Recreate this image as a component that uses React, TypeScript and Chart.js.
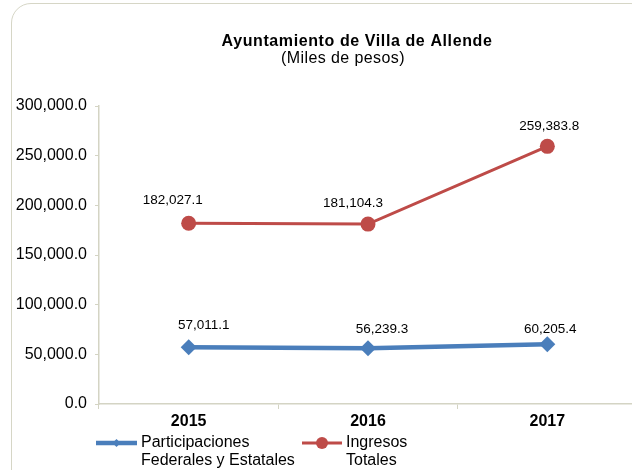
import { useEffect, useRef } from "react";
import { Chart, registerables } from "chart.js";
Chart.register(...registerables);

const years = ["2015", "2016", "2017"];
const participaciones = [57011.1, 56239.3, 60205.4];
const ingresos = [182027.1, 181104.3, 259383.8];
const seriesNames = [
  ["Participaciones", "Federales y Estatales"],
  ["Ingresos", "Totales"],
];
const titleText = "Ayuntamiento de Villa de Allende";
const subtitleText = "(Miles de pesos)";
const yMin = 0;
const yMax = 300000;
const yStep = 50000;

const BLUE = "#4a7ebb";
const RED = "#be4b48";
const AXIS = "#d4d4c4";
const FONT = "'Liberation Sans', Arial, sans-serif";

const fmt = (v: number) =>
  v.toLocaleString("en-US", { minimumFractionDigits: 1, maximumFractionDigits: 1 });

const overlayPlugin = {
  id: "overlay",
  afterDatasetsDraw(chart: any, _args: any, opts: any) {
    const ctx = chart.ctx;
    ctx.save();
    ctx.font = `13.5px ${FONT}`;
    ctx.fillStyle = "#000";
    ctx.textAlign = "center";
    ctx.textBaseline = "middle";
    chart.data.datasets.forEach((ds: any, di: number) => {
      const meta = chart.getDatasetMeta(di);
      meta.data.forEach((pt: any, i: number) => {
        const off = opts.labelOffsets[di][i];
        ctx.fillText(fmt(ds.data[i]), pt.x + off[0], pt.y + off[1]);
      });
    });
    ctx.restore();
  },
  afterDraw(chart: any, _args: any, opts: any) {
    const ctx = chart.ctx;
    ctx.save();
    ctx.fillStyle = "#000";
    ctx.textAlign = "center";
    ctx.textBaseline = "middle";
    ctx.font = `bold 16px ${FONT}`;
    (ctx as any).letterSpacing = "0.6px";
    ctx.fillText(titleText, opts.titleX, opts.titleY);
    ctx.font = `16px ${FONT}`;
    (ctx as any).letterSpacing = "0.4px";
    ctx.fillText(subtitleText, opts.subX, opts.subY);
    (ctx as any).letterSpacing = "0px";
    chart.data.datasets.forEach((ds: any, di: number) => {
      const it = opts.legend[di];
      ctx.strokeStyle = ds.borderColor;
      ctx.lineWidth = ds.borderWidth;
      ctx.beginPath();
      ctx.moveTo(it.x0, it.y);
      ctx.lineTo(it.x1, it.y);
      ctx.stroke();
      ctx.fillStyle = ds.borderColor;
      const mx = (it.x0 + it.x1) / 2;
      ctx.beginPath();
      if (ds.pointStyle === "rectRot") {
        const r = 4;
        ctx.moveTo(mx, it.y - r);
        ctx.lineTo(mx + r, it.y);
        ctx.lineTo(mx, it.y + r);
        ctx.lineTo(mx - r, it.y);
        ctx.closePath();
      } else {
        ctx.arc(mx, it.y, 6, 0, Math.PI * 2);
      }
      ctx.fill();
      ctx.fillStyle = "#000";
      ctx.textAlign = "left";
      ctx.textBaseline = "middle";
      ctx.font = `16px ${FONT}`;
      seriesNames[di].forEach((line, li) => {
        ctx.fillText(line, it.x1 + 4, it.y + li * 18);
      });
    });
    ctx.restore();
  },
};

export default function App() {
  const ref = useRef<HTMLCanvasElement>(null);
  useEffect(() => {
    if (!ref.current) return;
    const chart = new Chart(ref.current, {
      type: "line",
      data: {
        labels: years,
        datasets: [
          {
            label: seriesNames[0].join(" "),
            data: participaciones,
            borderColor: BLUE,
            backgroundColor: BLUE,
            borderWidth: 4.5,
            pointStyle: "rectRot",
            pointRadius: 8,
            pointHoverRadius: 8,
            pointBorderWidth: 0,
            tension: 0,
          },
          {
            label: seriesNames[1].join(" "),
            data: ingresos,
            borderColor: RED,
            backgroundColor: RED,
            borderWidth: 3,
            pointStyle: "circle",
            pointRadius: 7.5,
            pointHoverRadius: 7.5,
            pointBorderWidth: 0,
            tension: 0,
          },
        ],
      },
      options: {
        animation: false,
        responsive: false,
        events: [],
        layout: { padding: { top: 106, bottom: 36, left: 0, right: 0 } },
        plugins: {
          legend: { display: false },
          title: { display: false },
          tooltip: { enabled: false },
          overlay: {
            labelOffsets: [
              [[15, -22], [14, -19], [3, -15]],
              [[-16, -23], [-15, -21], [2, -20]],
            ],
            titleX: 357,
            titleY: 42,
            subX: 343,
            subY: 59,
            legend: [
              { x0: 96, x1: 137, y: 443 },
              { x0: 302, x1: 342, y: 443 },
            ],
          },
        } as any,
        scales: {
          x: {
            type: "category",
            offset: true,
            grid: { display: true, offset: true, drawOnChartArea: false, color: AXIS, tickLength: 5 },
            border: { color: AXIS, width: 1.5 },
            ticks: { color: "#000", font: { family: FONT, size: 16, weight: "bold" }, padding: 3 },
            afterFit: (s: any) => { s.height = 30; },
          },
          y: {
            min: yMin,
            max: yMax,
            grid: { display: true, drawOnChartArea: false, color: AXIS, tickLength: 4 },
            border: { color: AXIS, width: 1.5 },
            ticks: {
              stepSize: yStep,
              color: "#000",
              font: { family: FONT, size: 16 },
              padding: 8,
              callback: (v: any) => fmt(Number(v)),
            },
            afterFit: (s: any) => { s.width = 99; },
          },
        },
      },
      plugins: [overlayPlugin],
    });
    return () => chart.destroy();
  }, []);
  return (
    <div style={{ position: "fixed", left: 0, top: 0, width: 632, height: 470, overflow: "hidden", background: "#fff" }}>
      <div
        style={{
          position: "absolute",
          left: 11,
          top: 3,
          width: 640,
          height: 490,
          border: "1.5px solid #d6d6c6",
          borderRadius: 20,
          boxSizing: "border-box",
        }}
      />
      <canvas ref={ref} width={645} height={470} style={{ position: "absolute", left: 0, top: 0, width: 645, height: 470 }} />
    </div>
  );
}
